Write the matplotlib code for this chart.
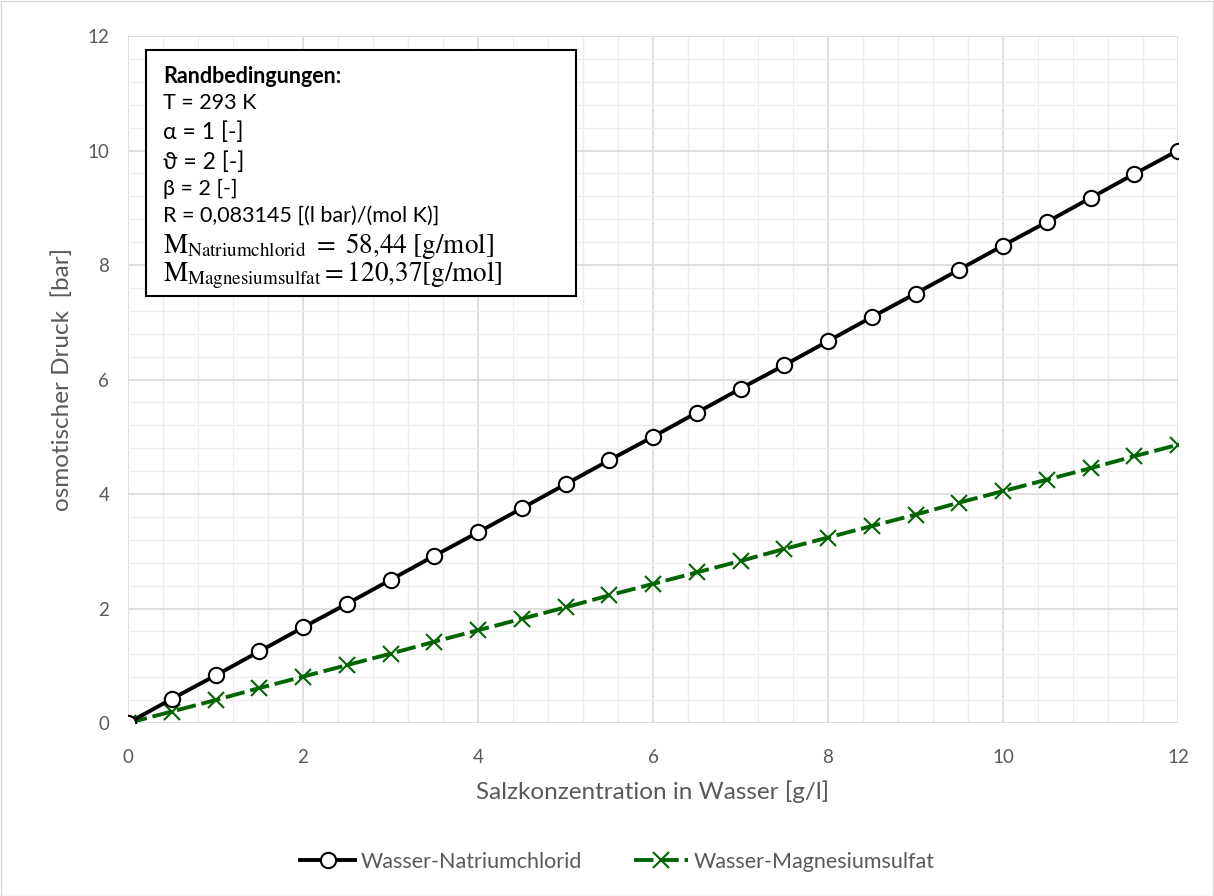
import matplotlib
matplotlib.use('Agg')
import matplotlib.pyplot as plt
from matplotlib.patches import Rectangle
from matplotlib.ticker import MultipleLocator

plt.rcParams['font.family'] = ['Lato', 'DejaVu Sans']
plt.rcParams['mathtext.fontset'] = 'stix'

# Salzkonzentration in g/l
conc = [0, 0.5, 1, 1.5, 2, 2.5, 3, 3.5, 4, 4.5, 5, 5.5, 6, 6.5, 7, 7.5, 8,
        8.5, 9, 9.5, 10, 10.5, 11, 11.5, 12]
# osmotischer Druck in bar
p_nacl = [0, 0.42, 0.83, 1.25, 1.67, 2.08, 2.50, 2.92, 3.33, 3.75, 4.17, 4.59,
          5.00, 5.42, 5.84, 6.25, 6.67, 7.09, 7.50, 7.92, 8.34, 8.75, 9.17,
          9.59, 10.00]
p_mgso4 = [0, 0.20, 0.40, 0.61, 0.81, 1.01, 1.21, 1.42, 1.62, 1.82, 2.02, 2.23,
           2.43, 2.63, 2.83, 3.04, 3.24, 3.44, 3.64, 3.85, 4.05, 4.25, 4.45,
           4.66, 4.86]

box_lines = [
    ('Randbedingungen:', 'bold'),
    ('T = 293 K', 'normal'),
    ('α = 1 [-]', 'normal'),
    ('ϑ = 2 [-]', 'normal'),
    ('β = 2 [-]', 'normal'),
    ('R = 0,083145 [(l bar)/(mol K)]', 'normal'),
    (r'$\mathrm{M}_{\mathrm{Natriumchlorid}}\ =\ 58{,}44\ [\mathrm{g/mol}]$', 'math'),
    (r'$\mathrm{M}_{\mathrm{Magnesiumsulfat}}=120{,}37[\mathrm{g/mol}]$', 'math'),
]

W, H = 1214, 896
fig = plt.figure(figsize=(W / 100, H / 100), dpi=100)
ax = fig.add_axes([128 / W, 1 - 723 / H, 1050 / W, 687 / H])

ax.plot(conc, p_nacl, color='black', lw=2.8, marker='o', ms=11,
        mfc='white', mec='black', mew=1.5, label='Wasser-Natriumchlorid',
        zorder=4)
ax.plot(conc, p_mgso4, color='#006400', lw=2.8, ls=(0, (5, 1.5)), marker='x',
        ms=11, mew=1.5, label='Wasser-Magnesiumsulfat', zorder=3)

ax.set_xlim(0, 12)
ax.set_ylim(0, 12)
ax.xaxis.set_major_locator(MultipleLocator(2))
ax.yaxis.set_major_locator(MultipleLocator(2))
ax.xaxis.set_minor_locator(MultipleLocator(0.4))
ax.yaxis.set_minor_locator(MultipleLocator(0.4))
ax.grid(which='major', color='#d9d9d9', lw=1.2)
ax.grid(which='minor', color='#ededed', lw=1.0)
ax.set_axisbelow(True)
for s in ax.spines.values():
    s.set_visible(False)
ax.tick_params(which='both', length=0, labelsize=13.5, colors='#595959')
ax.tick_params(axis='x', pad=19)
ax.tick_params(axis='y', pad=13.5)

ax.set_xlabel('Salzkonzentration in Wasser [g/l]', fontsize=17.5,
              color='#595959', labelpad=10)
ax.set_ylabel('osmotischer Druck  [bar]', fontsize=17.5, color='#595959',
              labelpad=10)

# Textfeld mit Randbedingungen
ax.add_patch(Rectangle((0.017, 0.6215), 0.41, 0.3585, transform=ax.transAxes,
                       facecolor='white', edgecolor='black', lw=1.5, zorder=5))
ys = [76, 103, 132, 162, 189, 216, 246, 275]
for (txt, kind), yp in zip(box_lines, ys):
    yy = (723 - yp) / 687
    if kind == 'math':
        ax.text(0.0333, yy, txt, transform=ax.transAxes, fontsize=19.5,
                va='center', ha='left', zorder=6)
    else:
        size = 16.5 if txt[0] in 'αϑ' else 15.5
        ax.text(0.0333, yy, txt, transform=ax.transAxes, fontsize=size,
                fontweight=kind, va='center', ha='left', zorder=6,
                family=['Lato', 'DejaVu Sans'])

leg = fig.legend(loc='center', bbox_to_anchor=(617.5 / W, 1 - 862 / H), ncol=2,
                 frameon=False, fontsize=15.5, handlelength=2.55,
                 columnspacing=2.4, handletextpad=0.25)
for t in leg.get_texts():
    t.set_color('#595959')

fig.patches.append(Rectangle((0.5 / W, 0.5 / H), 1 - 1.5 / W, 1 - 1.5 / H,
                             transform=fig.transFigure, fill=False,
                             edgecolor='#d9d9d9', lw=1))

fig.savefig('out.png', dpi=100)
